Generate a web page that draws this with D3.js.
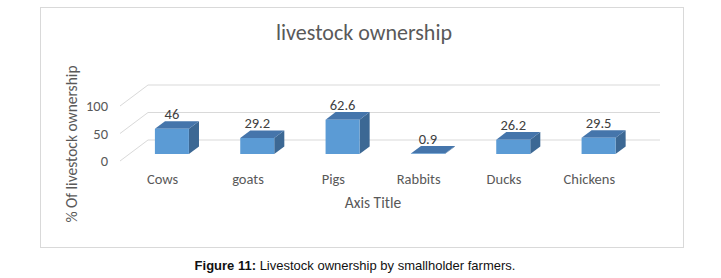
<!DOCTYPE html>
<html lang="en">
<head>
  <meta charset="UTF-8">
  <title>livestock ownership</title>
  <script src="https://d3js.org/d3.v7.min.js"></script>
  <style>
    body { margin: 0; background: #fff; }
    svg { display: block; }
    .cal { font-family: Carlito, Calibri, Lato, sans-serif; fill: #595959; }
  </style>
</head>
<body>
  <svg width="721" height="278"></svg>
  <script>
    // chart data
    const categories = ["Cows", "goats", "Pigs", "Rabbits", "Ducks", "Chickens"];
    const values = [46, 29.2, 62.6, 0.9, 26.2, 29.5];
    const yTicks = [0, 50, 100];

    const svg = d3.select("svg");

    // outer frame
    svg.append("rect")
       .attr("x", 40.5).attr("y", 7.5)
       .attr("width", 643).attr("height", 240)
       .attr("fill", "#fff").attr("stroke", "#d9d9d9");

    // front-plane scales; depth is drawn with an oblique offset
    const x = d3.scaleBand().domain(categories).range([120, 632]);
    const y = d3.scaleLinear().domain([0, 100]).range([161, 106]);
    const depthX = 28, depthY = -21;
    const proj = (px, v, d) => [px + d * depthX, y(v) + d * depthY];

    // gridlines: diagonal side wall + back wall
    const grid = svg.append("g").attr("stroke", "#d9d9d9").attr("fill", "none");
    yTicks.forEach(t => {
      const a = proj(x.range()[0], t, 0), b = proj(x.range()[0], t, 1), c = proj(x.range()[1], t, 1);
      grid.append("path").attr("d", `M${a[0]},${a[1]}L${b[0]},${b[1]}L${c[0]},${c[1]}`);
    });

    // y tick labels
    svg.append("g").selectAll("text").data(yTicks).join("text")
       .attr("class", "cal")
       .attr("x", 108).attr("y", d => y(d))
       .attr("dy", "0.35em")
       .attr("text-anchor", "end")
       .attr("font-size", 14.5)
       .text(d => d);

    // bars
    const d0 = 0.33, d1 = 0.69, barW = 34;
    const bars = svg.append("g").selectAll("g").data(categories).join("g");
    bars.each(function(cat, i) {
      const g = d3.select(this);
      const v = values[i];
      const xl = x(cat) + x.bandwidth() / 2 - barW / 2, xr = xl + barW;
      const fbl = proj(xl, 0, d0), fbr = proj(xr, 0, d0), ftl = proj(xl, v, d0), ftr = proj(xr, v, d0);
      const btl = proj(xl, v, d1), btr = proj(xr, v, d1), bbr = proj(xr, 0, d1);
      const poly = pts => "M" + pts.map(p => p.join(",")).join("L") + "Z";
      g.append("path").attr("d", poly([fbr, bbr, btr, ftr])).attr("fill", "#3c6894");
      g.append("path").attr("d", poly([ftl, ftr, btr, btl])).attr("fill", "#4575ab");
      g.append("path").attr("d", poly([fbl, fbr, ftr, ftl])).attr("fill", "#5b9bd5");
      g.append("text")
       .attr("class", "cal")
       .attr("x", (ftl[0] + ftr[0]) / 2)
       .attr("y", btl[1] - 2)
       .attr("text-anchor", "middle")
       .attr("font-size", 14.5)
       .style("fill", "#404040")
       .text(v);
    });

    // category labels
    svg.append("g").selectAll("text").data(categories).join("text")
       .attr("class", "cal")
       .attr("x", d => x(d) + x.bandwidth() / 2)
       .attr("y", 184)
       .attr("text-anchor", "middle")
       .attr("font-size", 14.5)
       .text(d => d);

    // axis titles
    svg.append("text").attr("class", "cal")
       .attr("x", 373).attr("y", 208)
       .attr("text-anchor", "middle").attr("font-size", 15.5)
       .text("Axis Title");

    svg.append("text").attr("class", "cal")
       .attr("transform", "translate(77,144) rotate(-90)")
       .attr("text-anchor", "middle").attr("font-size", 15.5)
       .text("% Of livestock ownership");

    // chart title
    svg.append("text").attr("class", "cal")
       .attr("x", 364).attr("y", 40)
       .attr("text-anchor", "middle").attr("font-size", 22)
       .text("livestock ownership");

    // figure caption
    const cap = svg.append("text")
       .attr("x", 355).attr("y", 270)
       .attr("text-anchor", "middle")
       .attr("font-family", "'Liberation Sans', Arial, sans-serif")
       .attr("font-size", 13)
       .attr("fill", "#111");
    cap.append("tspan").attr("font-weight", "bold").text("Figure 11:");
    cap.append("tspan").text(" Livestock ownership by smallholder farmers.");
  </script>
</body>
</html>
